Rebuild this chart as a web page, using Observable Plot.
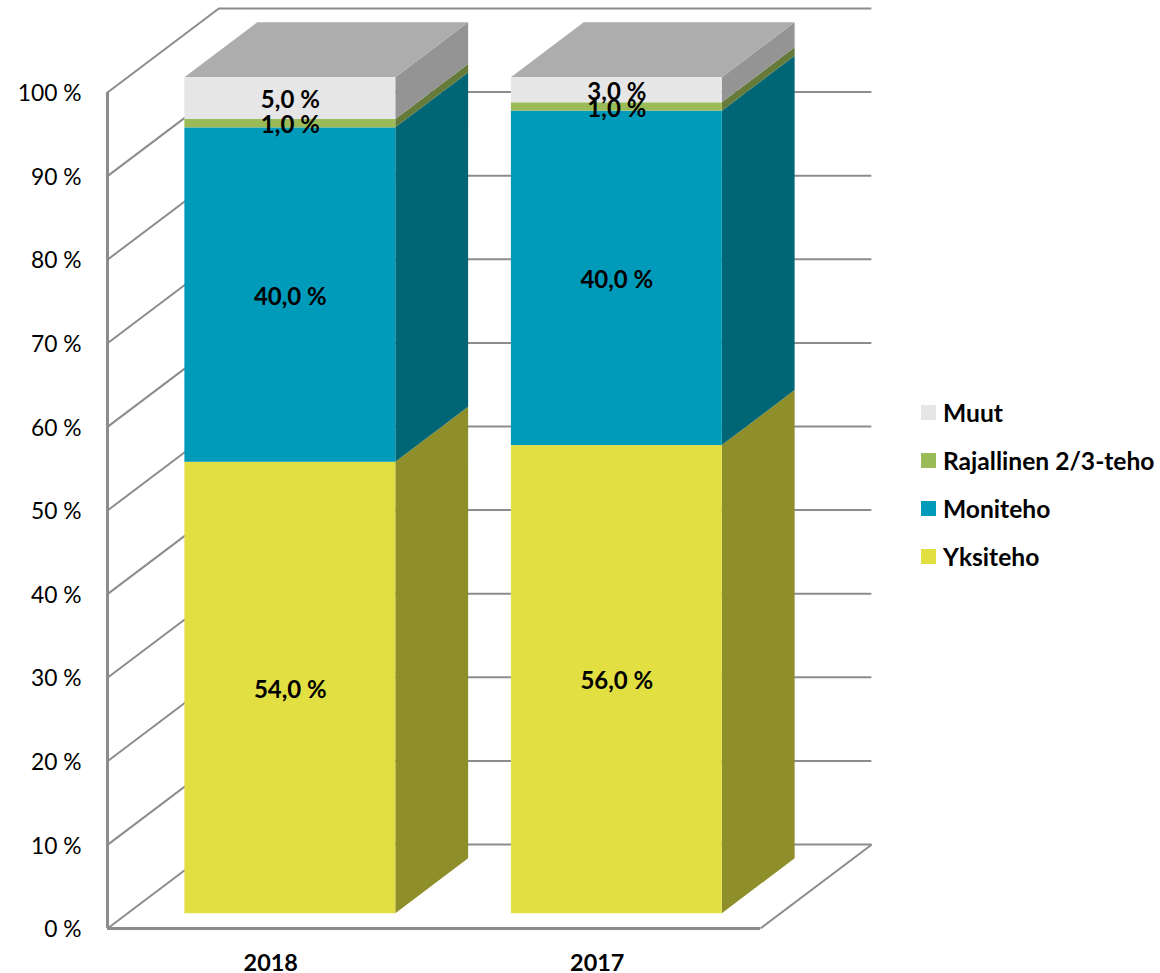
<!DOCTYPE html>
<html>
<head>
<meta charset="utf-8">
<script src="https://cdn.jsdelivr.net/npm/d3@7"></script>
<script src="https://cdn.jsdelivr.net/npm/@observablehq/plot@0.6"></script>
<style>
html,body{margin:0;padding:0;background:#fff}
#wrap{position:relative;width:1160px;height:973px;font-family:Lato,"Open Sans",sans-serif}
#legend{position:absolute;left:921px;top:388px;font-weight:700;font-size:24.6px;color:#000}
#legend div{height:48px;display:flex;align-items:center;white-space:nowrap}
#legend i{display:inline-block;width:15px;height:15px;margin-right:7px}
svg{overflow:visible}
</style>
</head>
<body>
<div id="wrap"><div id="chart"></div><div id="legend"></div></div>
<script>
// Data
const years = ["2018", "2017"];
const seriesNames = ["Yksiteho", "Moniteho", "Rajallinen 2/3-teho", "Muut"];
const yksiteho = [54, 56];
const moniteho = [40, 40];
const rajallinen = [1, 1];
const muut = [5, 3];
const yTicks = [0, 10, 20, 30, 40, 50, 60, 70, 80, 90, 100];

// Colours
const frontColors = ["#E2DF42", "#009BBA", "#9BBB59", "#E6E6E6"];
const sideColors = ["#8E8E2A", "#006676", "#667A3A", "#949494"];
const topColor = "#ADADAD";
const gridColor = "#8C8C8C";

// Oblique projection of the 3D chart box: depth 0 = front plane, depth 1 = back wall
const depthX = 0.341, depthY = 10.05;
const barFront = 0.176, barBack = 0.83, barHalf = 0.323;
const px = (i, d) => i + d * depthX;
const py = (v, d) => v + d * depthY;

const allValues = [yksiteho, moniteho, rajallinen, muut];
const segments = [];
years.forEach((year, b) => {
  let base = 0;
  allValues.forEach((vals, s) => {
    segments.push({year, bar: b + 0.5, s, name: seriesNames[s], v0: base, v1: base + vals[b], value: vals[b]});
    base += vals[b];
  });
});

const colorDomain = [...seriesNames, ...seriesNames.map(n => n + " side"), "top"];
const colorRange = [...frontColors, ...sideColors, topColor];

const sidePoints = segments.flatMap(d => [barFront, barBack].map(depth => ({
  key: d.year + d.name,
  fill: d.name + " side",
  x: px(d.bar + barHalf, depth),
  y1: py(d.v0, depth),
  y2: py(d.v1, depth)
})));

const topPoints = years.flatMap((year, b) => [barFront, barBack].map(depth => ({
  key: year,
  x1: px(b + 0.5 - barHalf, depth),
  x2: px(b + 0.5 + barHalf, depth),
  y: py(100, depth)
})));

const fmt = v => v.toFixed(1).replace(".", ",") + " %";

const plot = Plot.plot({
  width: 1160,
  height: 973,
  marginLeft: 107,
  marginRight: 400,
  marginTop: 92,
  marginBottom: 45,
  style: {fontFamily: "Lato, 'Open Sans', sans-serif", background: "transparent", overflow: "visible"},
  x: {domain: [0, 2]},
  y: {domain: [0, 100]},
  color: {type: "ordinal", domain: colorDomain, range: colorRange},
  marks: [
    // back wall and left wall gridlines
    Plot.ruleY(yTicks, {
      y: v => py(v, 1), x1: px(0, 1), x2: px(2, 1), stroke: gridColor, strokeWidth: 2
    }),
    Plot.link(yTicks, {
      x1: px(0, 0), y1: v => v, x2: px(0, 1), y2: v => py(v, 1), stroke: gridColor, strokeWidth: 2
    }),
    // floor edges and vertical axis line
    Plot.ruleY([0], {x1: 0, x2: 2, stroke: gridColor, strokeWidth: 3}),
    Plot.ruleX([0], {y1: 0, y2: 100, stroke: gridColor, strokeWidth: 3}),
    Plot.link([0], {x1: 2, y1: 0, x2: px(2, 1), y2: py(0, 1), stroke: gridColor, strokeWidth: 2}),
    // bars: side faces, top faces, front faces
    Plot.area(sidePoints, {x1: "x", x2: "x", y1: "y1", y2: "y2", z: "key", fill: "fill"}),
    Plot.area(topPoints, {x1: "x1", x2: "x2", y1: "y", y2: "y", z: "key", fill: () => "top"}),
    Plot.rect(segments, {
      x1: d => px(d.bar - barHalf, barFront),
      x2: d => px(d.bar + barHalf, barFront),
      y1: d => py(d.v0, barFront),
      y2: d => py(d.v1, barFront),
      fill: "name"
    }),
    // value labels
    Plot.text(segments, {
      x: d => px(d.bar, barFront),
      y: d => py((d.v0 + d.v1) / 2, barFront),
      text: d => fmt(d.value),
      dy: 2,
      fill: "#000",
      fontSize: 24,
      fontWeight: 700
    }),
    // axes
    Plot.axisY({
      ticks: yTicks, tickSize: 0, tickPadding: 26, label: null, dy: 1.5,
      tickFormat: v => v + " %", fontSize: 22.8, fill: "#000"
    }),
    Plot.axisX({
      ticks: [0.5, 1.5], tickSize: 0, tickPadding: 26, label: null,
      tickFormat: v => years[v - 0.5], fontSize: 23.4, fontWeight: 700, fill: "#000"
    })
  ]
});
document.getElementById("chart").appendChild(plot);

// Legend, top to bottom in reverse stacking order
const legend = document.getElementById("legend");
seriesNames.map((name, i) => ({name, color: frontColors[i]})).reverse().forEach(d => {
  const row = document.createElement("div");
  const sw = document.createElement("i");
  sw.style.background = d.color;
  row.appendChild(sw);
  row.appendChild(document.createTextNode(d.name));
  legend.appendChild(row);
});
</script>
</body>
</html>
